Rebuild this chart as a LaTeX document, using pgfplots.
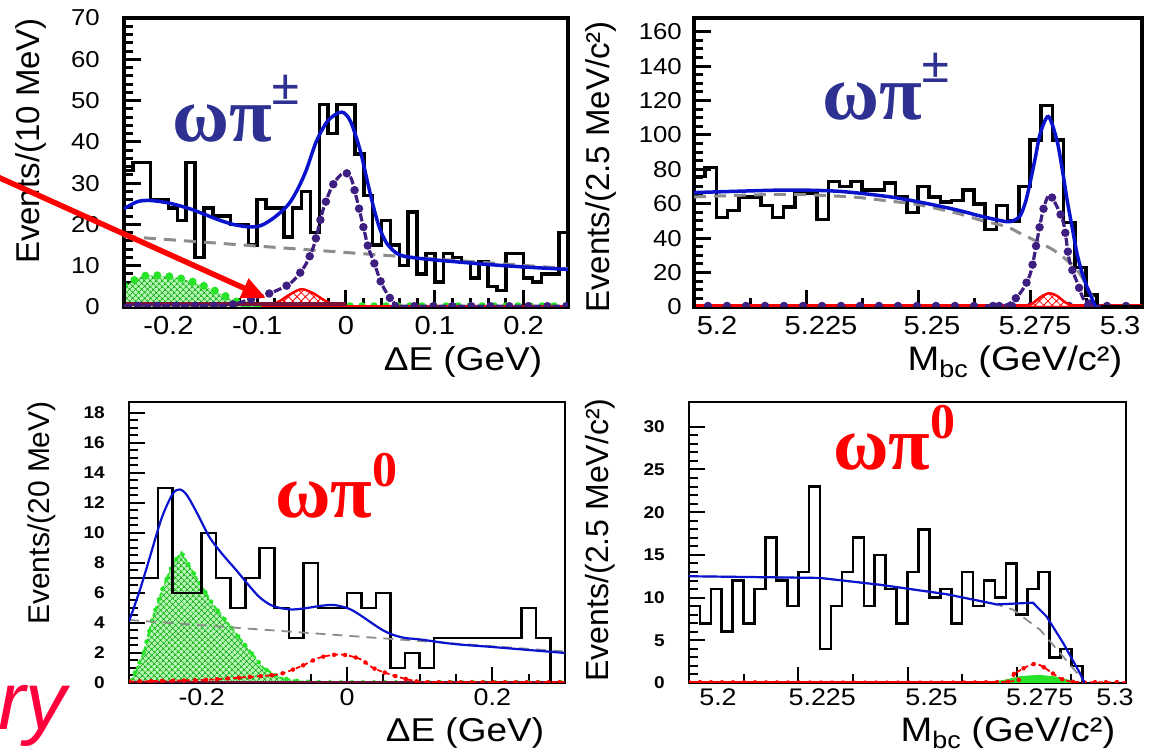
\documentclass[border=0pt]{standalone}
\usepackage{pgfplots}
\pgfplotsset{compat=1.18}
\usepackage{fontspec}
\setmainfont{Liberation Sans}
\newfontfamily\widesans{Liberation Sans}[FakeStretch=1.12]
\newfontfamily\greekbold{Liberation Serif Bold}
\newfontfamily\prelim{Liberation Sans Italic}
\usetikzlibrary{patterns.meta,arrows.meta}

\definecolor{fitblue}{RGB}{10,20,205}
\definecolor{sigpurple}{RGB}{62,30,128}
\definecolor{bkggray}{RGB}{140,140,140}
\definecolor{feedgreen}{RGB}{40,228,40}
\definecolor{hatchgreen}{RGB}{20,170,20}
\definecolor{labblue}{RGB}{46,49,146}
\definecolor{maroonline}{RGB}{120,20,60}
\definecolor{prelimred}{RGB}{255,0,60}

\pgfplotsset{
  toppanel/.style={
    scale only axis, tick align=inside, xtick pos=bottom, ytick pos=left,
    axis line style={line width=3.5pt, line join=miter},
    major tick length=17pt, minor tick length=9pt,
    tick style={line width=3pt, black},
    xticklabel style={font=\widesans\fontsize{26}{26}\selectfont, inner sep=0pt, anchor=north, yshift=-9pt},
    yticklabel style={font=\widesans\fontsize{23}{23}\selectfont, inner sep=0pt, anchor=east},
  },
  bottompanel/.style={
    scale only axis, tick align=inside, xtick pos=bottom, ytick pos=left,
    axis line style={line width=2pt, line join=miter},
    major tick length=16pt, minor tick length=9pt,
    tick style={line width=2pt, black},
    xticklabel style={font=\widesans\fontsize{24}{24}\selectfont, inner sep=0pt, anchor=north, yshift=-6pt},
    yticklabel style={font=\widesans\bfseries\fontsize{17}{17}\selectfont, inner sep=0pt, anchor=east, xshift=-24pt},
  },
  histo/.style={const plot, black, line width=3.5pt, line join=miter},
  histothin/.style={const plot, black, line width=2.6pt, line join=miter},
  fitline/.style={smooth, fitblue, line width=3.5pt},
  bkgline/.style={smooth, bkggray, line width=3pt, dash pattern=on 12pt off 8pt},
  sigdash/.style={smooth, sigpurple, line width=3.2pt, dash pattern=on 8pt off 11pt},
  sigdots/.style={smooth, sigpurple, line width=8.5pt, line cap=round, dash pattern=on 0pt off 19pt, dash phase=5pt},
  greendots/.style={smooth, feedgreen, line width=8pt, line cap=round, dash pattern=on 0pt off 12pt},
  reddash/.style={smooth, red, line width=1.8pt, dash pattern=on 5pt off 3pt},
  reddots/.style={smooth, red, line width=4.5pt, line cap=round, dash pattern=on 0pt off 11pt},
}

\begin{document}
\begin{tikzpicture}
\useasboundingbox (0pt,0pt) rectangle (1160pt,755pt);

% ---------------- Delta E, omega pi+- ----------------
\begin{axis}[toppanel,
  at={(124pt,448pt)}, anchor=south west, width=444pt, height=289pt,
  xmin=-0.25, xmax=0.25, ymin=0, ymax=70,
  xtick={-0.2,-0.1,0,0.1,0.2}, xticklabels={-0.2,-0.1,0,0.1,0.2}, minor x tick num=4,
  ytick={0,10,20,30,40,50,60,70}, yticklabels={0,10,20,30,40,50,60,70}, minor y tick num=4,
  yticklabel style={xshift=-24pt}]
% feed-across component
\addplot[fill=feedgreen!35, draw=none, postaction={pattern={Hatch[angle=45,distance=4pt,line width=0.8pt]}, pattern color=hatchgreen}]
  coordinates {(-0.25,5.2) (-0.247,5.3) (-0.232,7.3) (-0.217,7.7) (-0.194,7.3) (-0.172,6.1) (-0.153,4.5) (-0.138,2.9) (-0.123,1.3) (-0.112,0.5) (-0.1,0.1) (-0.09,0)} \closedcycle;
\addplot[greendots] coordinates {(-0.25,5.2) (-0.247,5.3) (-0.232,7.3) (-0.217,7.7) (-0.194,7.3) (-0.172,6.1) (-0.153,4.5) (-0.138,2.9) (-0.123,1.3) (-0.112,0.5) (-0.1,0.1) (-0.09,0)};
\addplot[greendots] coordinates {(-0.09,0.2) (0.25,0.2)};
% rho pi component
\addplot[smooth, red, line width=2.2pt, fill=white, postaction={pattern={Hatch[angle=45,distance=6pt,line width=0.8pt]}, pattern color=red}]
  coordinates {(-0.095,0) (-0.085,0.5) (-0.075,1.4) (-0.065,2.8) (-0.055,4.0) (-0.05,4.3) (-0.045,4.1) (-0.035,3.1) (-0.025,1.7) (-0.015,0.7) (-0.005,0.2) (0.005,0)} \closedcycle;
\addplot[maroonline, line width=4pt] coordinates {(-0.25,0.8) (0.0,0.8)};
\addplot[red, line width=2pt] coordinates {(0.0,0.3) (0.25,0.3)};
% data
\addplot[histo] coordinates {
  (-0.25,0) (-0.25,33) (-0.24,35) (-0.23,35) (-0.22,26) (-0.21,26) (-0.20,24) (-0.19,21) (-0.18,35)
  (-0.17,12) (-0.16,24) (-0.15,22) (-0.14,22) (-0.13,20) (-0.12,20) (-0.11,15) (-0.10,26) (-0.09,24)
  (-0.08,24) (-0.07,17) (-0.06,24) (-0.05,28) (-0.04,18) (-0.03,49) (-0.02,42) (-0.01,49) (0.00,49)
  (0.01,37) (0.02,27) (0.03,15) (0.04,21) (0.05,15) (0.06,10) (0.07,23) (0.08,8) (0.09,13) (0.10,6)
  (0.11,13) (0.12,12) (0.13,11) (0.14,7) (0.15,11) (0.16,5) (0.17,4) (0.18,13) (0.19,13) (0.20,7)
  (0.21,6) (0.22,8) (0.23,8) (0.24,18) (0.25,18) (0.25,0)};
% continuum background
\addplot[bkgline] coordinates {(-0.25,17.1) (0,13.2) (0.25,9.3)};
% signal
\addplot[sigdash] coordinates {(-0.25,0.3) (-0.15,0.3) (-0.13,0.5) (-0.11,1.7) (-0.086,3.3) (-0.063,5.7) (-0.047,9.7) (-0.036,15) (-0.026,23.4) (-0.015,29.5) (-0.003,32.5) (0.005,31.5) (0.01,28) (0.02,19) (0.025,14.5) (0.032,10.5) (0.04,5.7) (0.05,2) (0.057,0.5) (0.065,0.2) (0.25,0.2)};
\addplot[sigdots] coordinates {(-0.25,0.3) (-0.15,0.3) (-0.13,0.5) (-0.11,1.7) (-0.086,3.3) (-0.063,5.7) (-0.047,9.7) (-0.036,15) (-0.026,23.4) (-0.015,29.5) (-0.003,32.5) (0.005,31.5) (0.01,28) (0.02,19) (0.025,14.5) (0.032,10.5) (0.04,5.7) (0.05,2) (0.057,0.5) (0.065,0.2) (0.25,0.2)};
% total fit
\addplot[fitline] coordinates {(-0.25,23.8) (-0.235,25.5) (-0.221,25.8) (-0.2,25.2) (-0.176,23.8) (-0.16,22.5) (-0.142,21) (-0.125,19.9) (-0.108,19.4) (-0.095,19.8) (-0.08,21.8) (-0.065,24.8) (-0.055,28.3) (-0.045,33) (-0.033,40.3) (-0.02,45.2) (-0.005,47.2) (0.005,45) (0.016,37.9) (0.024,30.5) (0.031,24.2) (0.038,19) (0.046,15.4) (0.057,13) (0.068,12.2) (0.09,11.6) (0.121,11) (0.16,10.3) (0.2,9.7) (0.25,9.1)};
\end{axis}

% ---------------- Mbc, omega pi+- ----------------
\begin{axis}[toppanel,
  at={(694pt,448pt)}, anchor=south west, width=448pt, height=289pt,
  xmin=5.2, xmax=5.3, ymin=0, ymax=168,
  xtick={5.2,5.225,5.25,5.275,5.3},
  xticklabels={\hspace*{46pt}5.2, \hspace*{30pt}5.225, \hspace*{28pt}5.25, \hspace*{10pt}5.275, 5.3\hspace*{44pt}},
  minor x tick num=1,
  ytick={0,20,40,60,80,100,120,140,160}, yticklabels={0,20,40,60,80,100,120,140,160}, minor y tick num=3,
  yticklabel style={xshift=-12pt}]
\addplot[red, line width=3pt] coordinates {(5.2,0.6) (5.3,0.6)};
\addplot[sigdots] coordinates {(5.2,0.6) (5.3,0.6)};
\addplot[smooth, red, line width=2.2pt, fill=white, postaction={pattern={Hatch[angle=45,distance=6pt,line width=0.8pt]}, pattern color=red}]
  coordinates {(5.2735,0) (5.2755,2) (5.2775,6) (5.2793,8) (5.281,6.5) (5.283,2.5) (5.285,0.3) (5.2865,0)} \closedcycle;
\addplot[histo] coordinates {
  (5.2,0) (5.2,76) (5.2025,81) (5.205,52) (5.2075,56) (5.21,64) (5.2125,64) (5.215,59) (5.2175,52)
  (5.22,58) (5.2225,66) (5.225,66) (5.2275,51) (5.23,73) (5.2325,70) (5.235,73) (5.2375,68) (5.24,68)
  (5.2425,72) (5.245,64) (5.2475,55) (5.25,70) (5.2525,64) (5.255,61) (5.2575,62) (5.26,68) (5.2625,60)
  (5.265,45) (5.2675,59) (5.27,50) (5.2725,70) (5.275,97) (5.2775,117) (5.28,97) (5.2825,49) (5.285,23)
  (5.2875,7) (5.29,0) (5.2925,0) (5.295,0) (5.2975,0) (5.3,0)};
\addplot[bkgline] coordinates {(5.2,64) (5.22,65.5) (5.235,64) (5.2438,61.5) (5.25,59.5) (5.2587,54.5) (5.2646,50) (5.2698,46.7) (5.2728,42.8) (5.2803,33) (5.2855,21.5) (5.2885,8) (5.29,0)};
\addplot[sigdash] coordinates {(5.265,0.6) (5.2698,1.2) (5.2728,8) (5.2751,19.6) (5.2766,39) (5.2779,56) (5.2792,65) (5.2805,61) (5.2825,48.6) (5.2838,27) (5.2856,13.8) (5.2871,4) (5.2895,0.6) (5.292,0.6)};
\addplot[sigdots] coordinates {(5.265,0.6) (5.2698,1.2) (5.2728,8) (5.2751,19.6) (5.2766,39) (5.2779,56) (5.2792,65) (5.2805,61) (5.2825,48.6) (5.2838,27) (5.2856,13.8) (5.2871,4) (5.2895,0.6) (5.292,0.6)};
\addplot[fitline] coordinates {(5.2,66.5) (5.21,67.3) (5.2214,68) (5.2326,67.2) (5.2438,64) (5.2513,60.5) (5.2587,56.4) (5.2645,52.5) (5.2698,49.6) (5.2715,50.5) (5.2728,53) (5.274,61) (5.275,72) (5.2762,87) (5.2773,101) (5.2791,110.7) (5.281,97) (5.2822,80) (5.2833,62) (5.2845,45) (5.2855,31) (5.2866,20) (5.2877,11.8) (5.2888,5) (5.2896,0)};
\end{axis}

% ---------------- Delta E, omega pi0 ----------------
\begin{axis}[bottompanel,
  at={(129pt,72pt)}, anchor=south west, width=436pt, height=281pt,
  xmin=-0.3, xmax=0.3, ymin=0, ymax=18.73,
  xtick={-0.2,0,0.2}, xticklabels={-0.2,0,0.2},
  minor xtick={-0.3,-0.25,-0.15,-0.1,-0.05,0.05,0.1,0.15,0.25},
  ytick={0,2,4,6,8,10,12,14,16,18}, yticklabels={0,2,4,6,8,10,12,14,16,18}, minor y tick num=3]
\addplot[fill=feedgreen!35, draw=none, postaction={pattern={Hatch[angle=45,distance=4pt,line width=0.7pt]}, pattern color=hatchgreen}]
  coordinates {(-0.3,0.1) (-0.295,0.35) (-0.28,2.0) (-0.267,4.4) (-0.253,6.4) (-0.239,8.0) (-0.228,8.7) (-0.207,7.0) (-0.184,5.2) (-0.161,3.8) (-0.138,2.4) (-0.115,1.0) (-0.092,0.35) (-0.064,0.1) (-0.03,0)} \closedcycle;
\addplot[feedgreen, line width=2pt, dash pattern=on 4pt off 3pt] coordinates {(-0.3,0.1) (-0.295,0.35) (-0.28,2.0) (-0.267,4.4) (-0.253,6.4) (-0.239,8.0) (-0.228,8.7) (-0.207,7.0) (-0.184,5.2) (-0.161,3.8) (-0.138,2.4) (-0.115,1.0) (-0.092,0.35) (-0.064,0.1) (-0.03,0.05) (0.3,0.05)};
\addplot[feedgreen, line width=4.5pt, line cap=round, dash pattern=on 0pt off 11pt] coordinates {(-0.3,0.1) (-0.295,0.35) (-0.28,2.0) (-0.267,4.4) (-0.253,6.4) (-0.239,8.0) (-0.228,8.7) (-0.207,7.0) (-0.184,5.2) (-0.161,3.8) (-0.138,2.4) (-0.115,1.0) (-0.092,0.35) (-0.064,0.1) (-0.03,0.05) (0.3,0.05)};
\addplot[maroonline, line width=1.5pt] coordinates {(-0.3,0.05) (0.3,0.05)};
\addplot[histothin] coordinates {
  (-0.3,0) (-0.3,7) (-0.28,7) (-0.26,13) (-0.24,6) (-0.22,6) (-0.20,10) (-0.18,7) (-0.16,5) (-0.14,7)
  (-0.12,9) (-0.10,5) (-0.08,3) (-0.06,8) (-0.04,5) (-0.02,5) (0.00,6) (0.02,5) (0.04,6) (0.06,1)
  (0.08,2) (0.10,1) (0.12,3) (0.14,3) (0.16,3) (0.18,3) (0.20,3) (0.22,3) (0.24,5) (0.26,3) (0.28,0) (0.3,0)};
\addplot[bkggray, line width=1.8pt, dash pattern=on 10pt off 7pt] coordinates {(-0.3,4.2) (0.3,2.1)};
\addplot[reddash] coordinates {(-0.3,0.1) (-0.2,0.2) (-0.15,0.35) (-0.12,0.45) (-0.092,0.6) (-0.064,1.1) (-0.037,1.7) (-0.009,1.9) (0.018,1.6) (0.036,1.0) (0.064,0.5) (0.092,0.15) (0.12,0.05) (0.3,0.05)};
\addplot[reddots] coordinates {(-0.3,0.1) (-0.2,0.2) (-0.15,0.35) (-0.12,0.45) (-0.092,0.6) (-0.064,1.1) (-0.037,1.7) (-0.009,1.9) (0.018,1.6) (0.036,1.0) (0.064,0.5) (0.092,0.15) (0.12,0.05) (0.3,0.05)};
\addplot[smooth, fitblue, line width=2.2pt] coordinates {(-0.3,4.1) (-0.285,6.2) (-0.27,8.6) (-0.255,11) (-0.24,12.6) (-0.23,12.9) (-0.22,12.5) (-0.205,11.2) (-0.189,9.7) (-0.17,8.5) (-0.152,7.5) (-0.135,6.5) (-0.12,5.7) (-0.105,5.2) (-0.092,5.0) (-0.075,4.9) (-0.055,5.0) (-0.035,5.15) (-0.018,5.2) (0.0,5.0) (0.009,4.8) (0.022,4.4) (0.037,3.9) (0.05,3.5) (0.064,3.2) (0.08,3.0) (0.101,2.9) (0.147,2.6) (0.2,2.4) (0.25,2.2) (0.3,2.0)};
\end{axis}

% ---------------- Mbc, omega pi0 ----------------
\begin{axis}[bottompanel,
  at={(689pt,72pt)}, anchor=south west, width=437pt, height=281pt,
  xmin=5.2, xmax=5.3, ymin=0, ymax=32.9,
  xtick={5.2,5.225,5.25,5.275,5.3},
  xticklabels={\hspace*{58pt}5.2, \hspace*{48pt}5.225, \hspace*{48pt}5.25, \hspace*{46pt}5.275, 5.3\hspace*{22pt}},
  minor x tick num=1,
  ytick={0,5,10,15,20,25,30}, yticklabels={0,5,10,15,20,25,30}, minor y tick num=4]
\addplot[fill=feedgreen, draw=feedgreen, line width=1pt] coordinates {(5.268,0) (5.272,0.3) (5.276,0.75) (5.28,0.9) (5.284,0.7) (5.287,0.3) (5.289,0)} \closedcycle;
\addplot[histothin] coordinates {
  (5.2,0) (5.2,9) (5.2025,7) (5.205,11) (5.2075,6) (5.21,12) (5.2125,7) (5.215,11) (5.2175,17) (5.22,12)
  (5.2225,9) (5.225,13) (5.2275,23) (5.23,4) (5.2325,9) (5.235,13) (5.2375,17) (5.24,9) (5.2425,15)
  (5.245,11) (5.2475,7) (5.25,13) (5.2525,18) (5.255,10) (5.2575,11) (5.26,7) (5.2625,13) (5.265,9)
  (5.2675,12) (5.27,10) (5.2725,14) (5.275,8) (5.2775,11) (5.28,13) (5.2825,3) (5.285,4) (5.2875,2)
  (5.29,0) (5.2925,0) (5.295,0) (5.2975,0) (5.3,0)};
\addplot[bkggray, line width=1.8pt, dash pattern=on 10pt off 7pt] coordinates {(5.2,12.5) (5.23,12.3) (5.2437,11.5) (5.2589,10.4) (5.2704,9.2) (5.2741,8.6) (5.2803,6.25) (5.2856,3.1) (5.2894,0.8) (5.2905,0)};
\addplot[reddash] coordinates {(5.2,0.1) (5.27,0.1) (5.2741,1.0) (5.278,2.1) (5.2803,2.1) (5.2848,0.6) (5.287,0.2) (5.29,0.1) (5.3,0.1)};
\addplot[reddots] coordinates {(5.2,0.1) (5.27,0.1) (5.2741,1.0) (5.278,2.1) (5.2803,2.1) (5.2848,0.6) (5.287,0.2) (5.29,0.1) (5.3,0.1)};
\addplot[red, line width=2.5pt] coordinates {(5.2,0.1) (5.27,0.1)};
\addplot[fitblue, line width=2.2pt] coordinates {(5.2,12.5) (5.23,12.3) (5.2437,11.5) (5.2589,10.4) (5.2704,9.2) (5.2787,9.4) (5.2818,7.8) (5.2856,4.7) (5.2894,1.2) (5.2905,0)};
\end{axis}

% axis titles
\node[rotate=90, font=\fontsize{33}{33}\selectfont] at (31pt,614pt) {Events/(10 MeV)};
\node[rotate=90, font=\fontsize{33}{33}\selectfont] at (601pt,588pt) {Events/(2.5 MeV/c²)};
\node[rotate=90, font=\fontsize{30}{30}\selectfont] at (42pt,242pt) {Events/(20 MeV)};
\node[rotate=90, font=\fontsize{32}{32}\selectfont] at (600pt,215pt) {Events/(2.5 MeV/c²)};
\node[font=\widesans\fontsize{33}{33}\selectfont] at (463pt,393pt) {ΔE (GeV)};
\node[font=\widesans\fontsize{34}{34}\selectfont] at (1015pt,393pt) {M\raisebox{-0.22em}{\fontsize{24}{24}\selectfont bc} (GeV/c²)};
\node[font=\widesans\fontsize{33}{33}\selectfont] at (465pt,22pt) {ΔE (GeV)};
\node[font=\widesans\fontsize{34}{34}\selectfont] at (1008pt,22pt) {M\raisebox{-0.22em}{\fontsize{24}{24}\selectfont bc} (GeV/c²)};

% channel labels
\node[anchor=base west, inner sep=0pt, text=labblue, font=\greekbold\fontsize{78}{78}\selectfont] at (172pt,613pt) {ωπ\raisebox{0.48em}{\fontsize{52}{52}\selectfont ±}};
\node[anchor=base west, inner sep=0pt, text=labblue, font=\greekbold\fontsize{78}{78}\selectfont] at (822pt,635pt) {ωπ\raisebox{0.48em}{\fontsize{52}{52}\selectfont ±}};
\node[anchor=base west, inner sep=0pt, text=red, font=\greekbold\fontsize{76}{76}\selectfont] at (275pt,237pt) {ωπ\raisebox{0.42em}{\fontsize{50}{50}\selectfont 0}};
\node[anchor=base west, inner sep=0pt, text=red, font=\greekbold\fontsize{76}{76}\selectfont] at (833pt,285pt) {ωπ\raisebox{0.42em}{\fontsize{50}{50}\selectfont 0}};

% pointer to the rho pi component
\draw[red, line width=5.5pt, -{Triangle[length=24pt,width=20pt]}] (-10pt,581.5pt) -- (266pt,457pt);

% preliminary stamp (tail of the word at the page edge)
\node[anchor=base west, inner sep=0pt, text=prelimred, font=\prelim\fontsize{82}{82}\selectfont] at (-2pt,25pt) {ry};
\end{tikzpicture}
\end{document}
